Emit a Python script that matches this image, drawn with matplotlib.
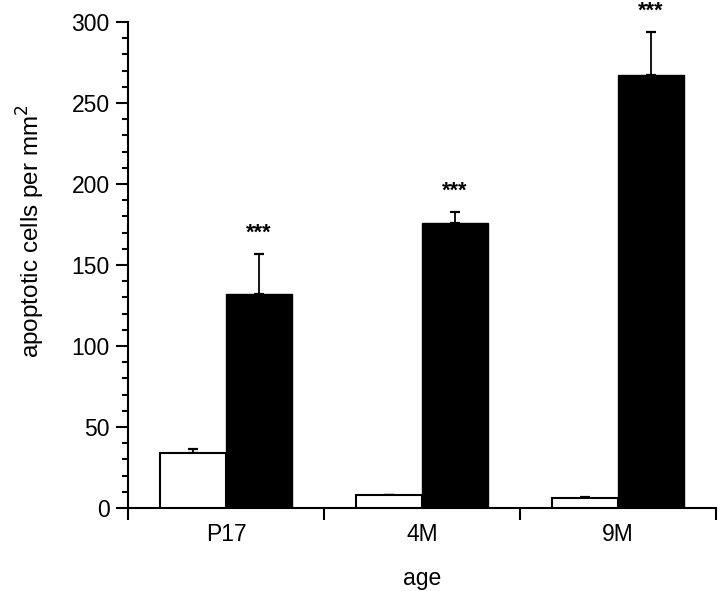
import numpy as np
import matplotlib
matplotlib.use("Agg")
import matplotlib.pyplot as plt
from matplotlib.ticker import MultipleLocator, FixedLocator, NullFormatter

plt.rcParams["font.family"] = ["Liberation Sans", "DejaVu Sans"]

# data
ages        = ["P17", "4M", "9M"]
control     = [34, 8, 6]
control_err = [2.5, 0, 1]
mutant      = [132, 176, 267]
mutant_err  = [25, 7, 27]
stars       = ["***", "***", "***"]

fig = plt.figure(figsize=(7.2, 5.91), dpi=100)
ax = fig.add_axes([0.1778, 0.1404, 0.8166, 0.8224])

x = np.arange(len(ages)) + 0.5
w = 0.337

ax.bar(x - w / 2, control, w, color="white", edgecolor="black",
       linewidth=1.5, zorder=3)
ax.bar(x + w / 2, mutant, w, color="black", edgecolor="black",
       linewidth=1.0, zorder=3)

# upward-only error bars
ax.errorbar(x - w / 2, control, yerr=[np.zeros(3), control_err], fmt="none",
            ecolor="black", elinewidth=1.3, capsize=3.6, capthick=1.6, zorder=2)
ax.errorbar(x + w / 2, mutant, yerr=[np.zeros(3), mutant_err], fmt="none",
            ecolor="black", elinewidth=1.3, capsize=3.6, capthick=1.6, zorder=2)

for xi, m, e, s in zip(x, mutant, mutant_err, stars):
    ax.annotate(s, (xi + w / 2, m + e), xytext=(0, 11),
                textcoords="offset points", ha="center", va="baseline",
                fontsize=15.5, fontweight="bold")

ax.set_xlim(0, 3)
ax.set_ylim(0, 300)

for side in ["top", "right"]:
    ax.spines[side].set_visible(False)
for side in ["left", "bottom"]:
    ax.spines[side].set_linewidth(1.5)

ax.yaxis.set_major_locator(MultipleLocator(50))
ax.yaxis.set_minor_locator(MultipleLocator(10))
ax.tick_params(axis="y", which="major", length=8.6, width=1.5,
               labelsize=16.5, pad=4.5)
ax.tick_params(axis="y", which="minor", length=4.3, width=1.5)

ax.xaxis.set_major_locator(FixedLocator([0, 1, 2, 3]))
ax.xaxis.set_major_formatter(NullFormatter())
ax.xaxis.set_minor_locator(FixedLocator(x))
ax.set_xticklabels(ages, minor=True)
ax.tick_params(axis="x", which="major", length=8.6, width=1.5)
ax.tick_params(axis="x", which="minor", length=0, labelsize=16.5, pad=11)

ax.set_xlabel("age", fontsize=16.5, labelpad=15)
ax.set_ylabel("apoptotic cells per mm$^2$", fontsize=17.5, labelpad=18)
ax.yaxis.label.set_y(0.57)

fig.savefig("out.png", dpi=100)
